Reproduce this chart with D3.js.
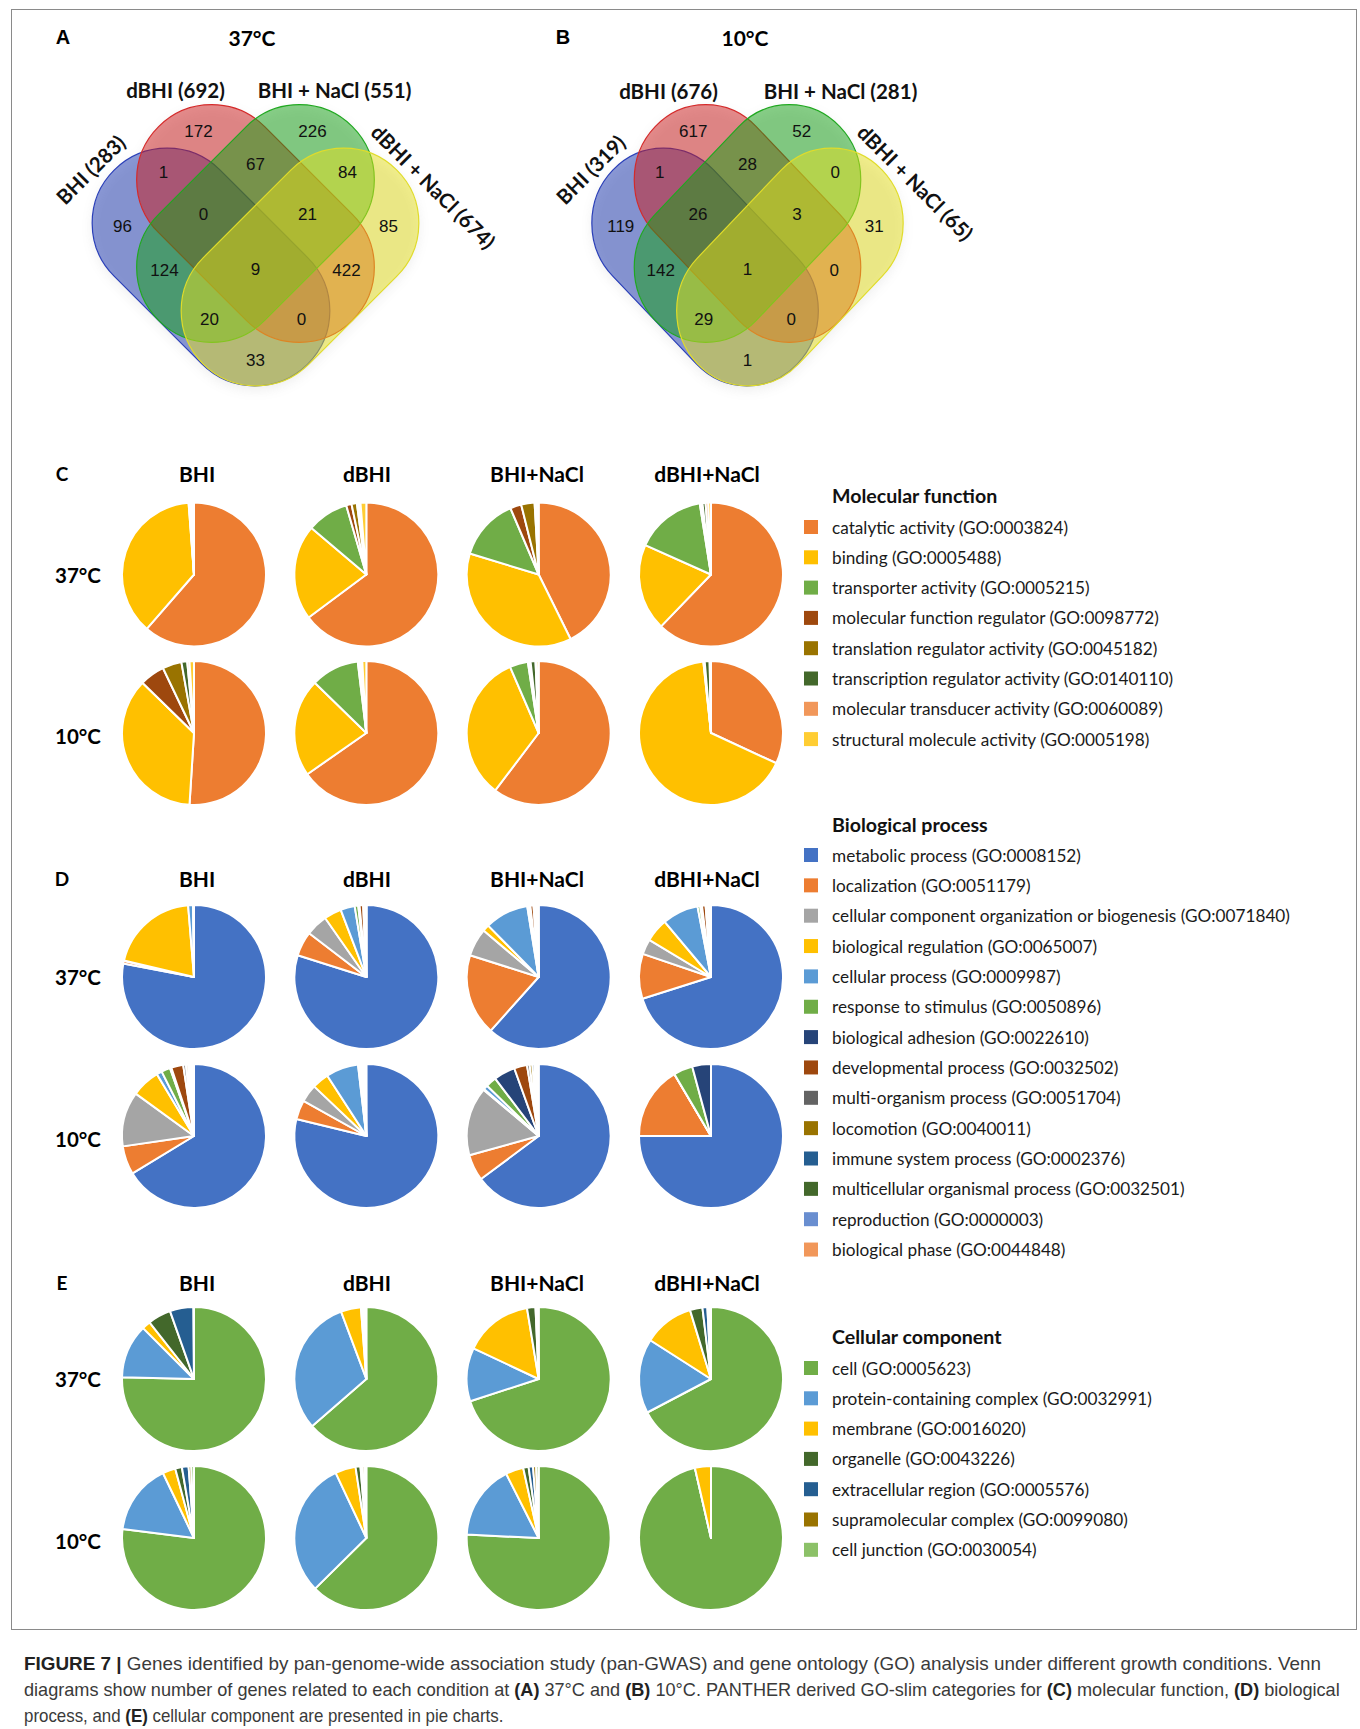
<!DOCTYPE html>
<html><head><meta charset="utf-8">
<script src="https://cdn.jsdelivr.net/npm/d3@7"></script>
<style>body{margin:0;background:#fff} svg{display:block}</style>
</head><body>
<script>
// ---------------- DATA ----------------
const vennSets = ["BHI", "dBHI", "BHI + NaCl", "dBHI + NaCl"];
const venn37Totals = [283, 692, 551, 674];
const venn10Totals = [319, 676, 281, 65];
// region order: dBHI only, BHI+NaCl only, BHI&dBHI, dBHI&BHI+NaCl, BHI+NaCl&dBHI+NaCl,
// BHI only, BHI&dBHI&BHI+NaCl, dBHI&BHI+NaCl&dBHI+NaCl, dBHI+NaCl only, BHI&BHI+NaCl,
// all four, dBHI&dBHI+NaCl, BHI&BHI+NaCl&dBHI+NaCl, BHI&dBHI&dBHI+NaCl, BHI&dBHI+NaCl
const venn37Counts = [172, 226, 1, 67, 84, 96, 0, 21, 85, 124, 9, 422, 20, 0, 33];
const venn10Counts = [617, 52, 1, 28, 0, 119, 26, 3, 31, 142, 1, 0, 29, 0, 1];

const conditions = ["BHI", "dBHI", "BHI+NaCl", "dBHI+NaCl"];
const temperatures = ["37°C", "10°C"];

const mfCategories = ["catalytic activity (GO:0003824)", "binding (GO:0005488)", "transporter activity (GO:0005215)",
  "molecular function regulator (GO:0098772)", "translation regulator activity (GO:0045182)",
  "transcription regulator activity (GO:0140110)", "molecular transducer activity (GO:0060089)",
  "structural molecule activity (GO:0005198)"];
const mfColors = ["#ED7D31", "#FFC000", "#70AD47", "#9E480E", "#997300", "#43682B", "#F1975A", "#FFCD33"];
// percent of genes per condition (BHI, dBHI, BHI+NaCl, dBHI+NaCl)
const mf37 = [
  [61.4, 37.4, 0.1, 0.1, 0.1, 0.1, 0.4, 0.4],
  [64.8, 21.4, 9.3, 1.2, 1.2, 0.4, 0.4, 1.3],
  [42.7, 37.0, 13.9, 2.5, 3.0, 0.3, 0.2, 0.4],
  [62.2, 19.5, 15.8, 0.3, 0.3, 0.7, 0.6, 0.6]
];
const mf10 = [
  [51.0, 36.3, 0.0, 5.6, 4.3, 1.3, 0.5, 1.0],
  [65.3, 22.0, 10.8, 0.25, 0.25, 0.25, 0.25, 0.9],
  [60.3, 33.2, 4.1, 0.3, 0.3, 1.1, 0.2, 0.5],
  [31.9, 66.4, 0.1, 0.1, 0.1, 1.1, 0.1, 0.2]
];

const bpCategories = ["metabolic process (GO:0008152)", "localization (GO:0051179)",
  "cellular component organization or biogenesis (GO:0071840)", "biological regulation (GO:0065007)",
  "cellular process (GO:0009987)", "response to stimulus (GO:0050896)", "biological adhesion (GO:0022610)",
  "developmental process (GO:0032502)", "multi-organism process (GO:0051704)", "locomotion (GO:0040011)",
  "immune system process (GO:0002376)", "multicellular organismal process (GO:0032501)",
  "reproduction (GO:0000003)", "biological phase (GO:0044848)"];
const bpColors = ["#4472C4", "#ED7D31", "#A5A5A5", "#FFC000", "#5B9BD5", "#70AD47", "#264478",
  "#9E480E", "#636363", "#997300", "#255E91", "#43682B", "#698ED0", "#F1975A"];
const bp37 = [
  [78.0, 0.6, 0.1, 20.0, 1.1, 0.1, 0.1, 0, 0, 0, 0, 0, 0, 0],
  [79.9, 5.5, 4.9, 3.9, 3.2, 0.8, 0.3, 0.8, 0.2, 0.3, 0.1, 0.1, 0, 0],
  [61.6, 18.3, 6.25, 1.5, 9.8, 0.4, 0.3, 0.7, 0.3, 0.3, 0.2, 0.15, 0.1, 0.1],
  [70.1, 10.1, 3.4, 5.3, 8.1, 0.6, 0.4, 0.8, 0.4, 0.3, 0.2, 0.1, 0.1, 0.1]
];
const bp10 = [
  [66.3, 6.4, 12.3, 6.4, 1.2, 2.0, 0.3, 2.7, 0.6, 0.5, 0.4, 0.4, 0.3, 0.2],
  [78.8, 4.3, 4.0, 3.75, 7.3, 0.2, 0.2, 0.3, 0.3, 0.2, 0.2, 0.2, 0.15, 0.1],
  [64.8, 5.9, 15.4, 0.2, 1.0, 2.4, 4.8, 2.9, 0.6, 0.6, 0.5, 0.4, 0.3, 0.2],
  [75.0, 16.5, 0, 0, 0, 4.3, 4.2, 0, 0, 0, 0, 0, 0, 0]
];

const ccCategories = ["cell (GO:0005623)", "protein-containing complex (GO:0032991)", "membrane (GO:0016020)",
  "organelle (GO:0043226)", "extracellular region (GO:0005576)", "supramolecular complex (GO:0099080)",
  "cell junction (GO:0030054)"];
const ccColors = ["#70AD47", "#5B9BD5", "#FFC000", "#43682B", "#255E91", "#997300", "#8CC168"];
const cc37 = [
  [75.4, 12.1, 1.9, 5.2, 5.3, 0.05, 0.05],
  [63.6, 30.7, 4.5, 0.4, 0.4, 0.2, 0.2],
  [70.0, 12.0, 15.4, 1.9, 0.3, 0.2, 0.2],
  [67.3, 16.75, 11.25, 2.8, 1.1, 0.4, 0.4]
];
const cc10 = [
  [77.0, 15.9, 2.9, 1.5, 1.5, 0.6, 0.6],
  [62.6, 30.4, 4.6, 1.1, 0.4, 0.5, 0.4],
  [75.75, 16.8, 4.0, 1.2, 1.0, 0.7, 0.55],
  [96.4, 0, 3.6, 0, 0, 0, 0]
];

// ---------------- DRAWING ----------------
const W = 1360, H = 1729;
const svg = d3.select("body").append("svg").attr("width", W).attr("height", H)
  .attr("font-family", "Lato, 'Open Sans', sans-serif");
svg.append("rect").attr("width", W).attr("height", H).attr("fill", "#fff");
svg.append("rect").attr("x", 11.5).attr("y", 9.5).attr("width", 1345).attr("height", 1620)
  .attr("fill", "none").attr("stroke", "#8a8a8a").attr("stroke-width", 1);

const defs = svg.append("defs");
defs.append("filter").attr("id", "halo").attr("x", "-20%").attr("y", "-20%").attr("width", "140%").attr("height", "140%")
  .append("feGaussianBlur").attr("stdDeviation", 6);

// ---- Venn diagrams (capsule-shaped sets) ----
const vennColors = ["#1a35b0", "#cc1a1a", "#12a012", "#e6e01c"];
const vennStrokes = ["#2a3fb8", "#d42a2a", "#20a820", "#e0dc2a"];
const capsuleHalfLen = 137, capsuleRadius = 75;
const setLayout = [
  { dx: -44.5, dy: 43.5, rot: 45 },
  { dx: 0, dy: 0, rot: 45 },
  { dx: 0, dy: 0, rot: -45 },
  { dx: 44.5, dy: 43.5, rot: -45 }
];
const regionOffsets = [[-57, -92], [57, -92], [-92, -51], [0, -59], [92, -51], [-133, 3], [-52, -9], [52, -9],
  [133, 3], [-91, 47], [0, 46], [91, 47], [-46, 96], [46, 96], [0, 137]];

function drawVenn(cx, cy, sx, letter, letterX, title, titleX, totals, counts, labelPos) {
  const g = svg.append("g");
  g.append("text").attr("x", letterX).attr("y", 37).attr("text-anchor", "middle")
    .attr("dominant-baseline", "central").attr("font-family", "'Liberation Sans', Arial, sans-serif")
    .attr("font-weight", "bold").attr("font-size", 20).text(letter);
  g.append("text").attr("x", titleX).attr("y", 37).attr("text-anchor", "middle")
    .attr("dominant-baseline", "central").attr("font-weight", "bold").attr("font-size", 21).text(title);
  const sets = vennSets.map((s, i) => ({ name: s, total: totals[i], i }));
  const shapes = g.append("g").attr("transform", `translate(${cx},${cy}) scale(${sx},1)`);
  // faint halo
  shapes.append("g").attr("filter", "url(#halo)").attr("opacity", 0.12)
    .selectAll("rect").data(sets).join("rect")
    .attr("x", -capsuleHalfLen).attr("y", -capsuleRadius).attr("width", 2 * capsuleHalfLen).attr("height", 2 * capsuleRadius)
    .attr("rx", capsuleRadius).attr("ry", capsuleRadius)
    .attr("transform", d => `translate(${setLayout[d.i].dx},${setLayout[d.i].dy + 4}) rotate(${setLayout[d.i].rot})`)
    .attr("fill", "#777");
  shapes.selectAll("rect.set").data(sets).join("rect").attr("class", "set")
    .attr("x", -capsuleHalfLen).attr("y", -capsuleRadius).attr("width", 2 * capsuleHalfLen).attr("height", 2 * capsuleRadius)
    .attr("rx", capsuleRadius).attr("ry", capsuleRadius)
    .attr("transform", d => `translate(${setLayout[d.i].dx},${setLayout[d.i].dy}) rotate(${setLayout[d.i].rot})`)
    .attr("fill", d => vennColors[d.i]).attr("fill-opacity", 0.5)
    .attr("stroke", d => vennStrokes[d.i]).attr("stroke-width", 1.2).attr("vector-effect", "non-scaling-stroke");
  g.selectAll("text.count").data(counts).join("text").attr("class", "count")
    .attr("x", (d, i) => cx + regionOffsets[i][0] * sx).attr("y", (d, i) => cy + regionOffsets[i][1])
    .attr("text-anchor", "middle").attr("dominant-baseline", "central")
    .attr("font-family", "'Liberation Sans', Arial, sans-serif").attr("font-size", 17).attr("fill", "#111")
    .text(d => d);
  g.selectAll("text.setlabel").data(sets).join("text").attr("class", "setlabel")
    .attr("transform", d => `translate(${cx + labelPos[d.i][0]},${cy + labelPos[d.i][1]}) rotate(${labelPos[d.i][2]})`)
    .attr("text-anchor", "middle").attr("dominant-baseline", "central")
    .attr("font-weight", "bold").attr("font-size", 20.5).attr("fill", "#111")
    .text(d => `${d.name} (${d.total})`);
}
drawVenn(255.5, 223.5, 1, "A", 63, "37°C", 252, venn37Totals, venn37Counts,
  [[-165, -54, -45], [-80, -134, 0], [79, -134, 0], [178, -37, 45]]);
drawVenn(747.5, 223.5, 0.953, "B", 563, "10°C", 745, venn10Totals, venn10Counts,
  [[-157, -54, -45], [-79, -133, 0], [93, -133, 0], [168, -41, 45]]);

// ---- Pie sections ----
const colX = d3.scalePoint().domain(conditions).range([194, 711]);
const headerX = d3.scalePoint().domain(conditions).range([197, 707]);
const pie = d3.pie().sort(null).value(d => d);
const arc = d3.arc().innerRadius(0).outerRadius(72);
const rowLabelShift = [0, 3];

function drawPieSection(letter, headerY, rowYs, data37, data10, colors) {
  const g = svg.append("g");
  const rowY = d3.scaleOrdinal().domain(temperatures).range(rowYs);
  g.append("text").attr("x", 62).attr("y", headerY).attr("text-anchor", "middle")
    .attr("dominant-baseline", "central").attr("font-weight", "bold").attr("font-size", 19).text(letter);
  g.selectAll("text.hdr").data(conditions).join("text").attr("class", "hdr")
    .attr("x", d => headerX(d)).attr("y", headerY).attr("text-anchor", "middle")
    .attr("dominant-baseline", "central").attr("font-weight", "bold").attr("font-size", 21).text(d => d);
  g.selectAll("text.row").data(temperatures).join("text").attr("class", "row")
    .attr("x", 78).attr("y", (d, i) => rowY(d) + rowLabelShift[i]).attr("text-anchor", "middle")
    .attr("dominant-baseline", "central").attr("font-weight", "bold").attr("font-size", 20.5).text(d => d);
  [data37, data10].forEach((rows, ti) => {
    rows.forEach((vals, ci) => {
      const pg = g.append("g").attr("transform", `translate(${colX(conditions[ci])},${rowY(temperatures[ti])})`);
      pg.selectAll("path").data(pie(vals)).join("path")
        .attr("d", arc).attr("fill", d => colors[d.index])
        .attr("stroke", "#fff").attr("stroke-width", 2).attr("stroke-linejoin", "round");
    });
  });
}
drawPieSection("C", 473, [574.5, 733], mf37, mf10, mfColors);
drawPieSection("D", 878, [977, 1136], bp37, bp10, bpColors);
drawPieSection("E", 1282, [1379, 1538], cc37, cc10, ccColors);

// ---- Legends ----
function drawLegend(title, titleY, firstY, step, cats, colors) {
  const g = svg.append("g");
  g.append("text").attr("x", 832).attr("y", titleY).attr("dominant-baseline", "central")
    .attr("font-weight", "bold").attr("font-size", 19.6).attr("fill", "#111").text(title);
  const items = g.selectAll("g.item").data(cats).join("g").attr("class", "item")
    .attr("transform", (d, i) => `translate(0,${firstY + i * step})`);
  items.append("rect").attr("x", 804).attr("y", -7).attr("width", 14).attr("height", 14)
    .attr("fill", (d, i) => colors[i]);
  items.append("text").attr("x", 832).attr("y", 0).attr("dominant-baseline", "central")
    .attr("font-size", 17.2).attr("fill", "#1a1a1a").text(d => d);
}
drawLegend("Molecular function", 495, 527, 30.3, mfCategories, mfColors);
drawLegend("Biological process", 824, 855, 30.35, bpCategories, bpColors);
drawLegend("Cellular component", 1336, 1368, 30.3, ccCategories, ccColors);

// ---- Caption ----
const captionLines = [
  [["FIGURE 7 |", true], [" Genes identified by pan-genome-wide association study (pan-GWAS) and gene ontology (GO) analysis under different growth conditions. Venn", false]],
  [["diagrams show number of genes related to each condition at ", false], ["(A)", true], [" 37°C and ", false], ["(B)", true],
   [" 10°C. PANTHER derived GO-slim categories for ", false], ["(C)", true], [" molecular function, ", false], ["(D)", true], [" biological", false]],
  [["process, and ", false], ["(E)", true], [" cellular component are presented in pie charts.", false]]
];
const captionY = [1663, 1690, 1716];
const captionWidths = [1298, 1317, 480];
captionLines.forEach((parts, li) => {
  const t = svg.append("text").attr("x", 0).attr("y", 0)
    .attr("font-family", "'Liberation Sans', Arial, sans-serif").attr("font-size", 18)
    .attr("dominant-baseline", "central").attr("fill", "#3a3a3a");
  parts.forEach(([s, b]) => {
    t.append("tspan").attr("font-weight", b ? "bold" : "normal").attr("fill", b ? "#222" : "#3a3a3a").text(s);
  });
  const w = t.node().getComputedTextLength();
  t.attr("transform", `translate(24,${captionY[li]}) scale(${captionWidths[li] / w},1)`);
});
</script>
</body></html>
